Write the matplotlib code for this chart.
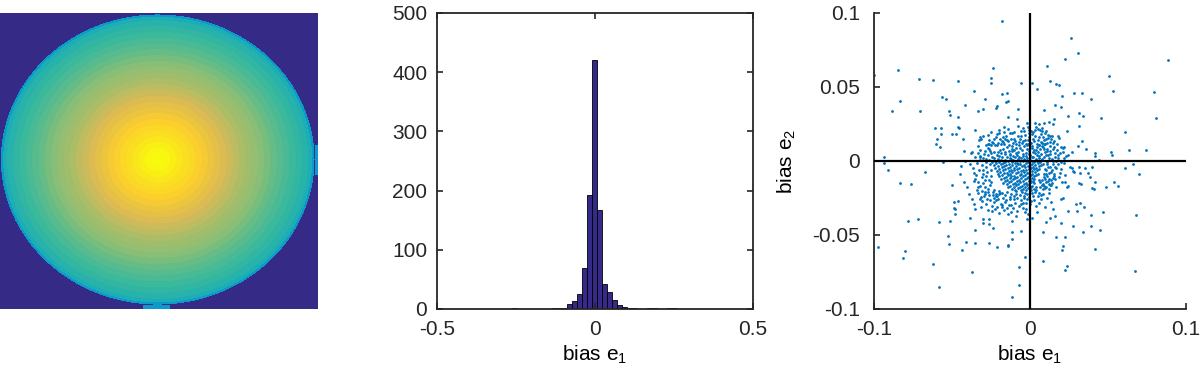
import numpy as np
import matplotlib
matplotlib.use('Agg')
import matplotlib.pyplot as plt
from matplotlib.colors import LinearSegmentedColormap

plt.rcParams['font.family'] = ['Liberation Sans', 'DejaVu Sans']
plt.rcParams['axes.unicode_minus'] = False
plt.rcParams['mathtext.default'] = 'regular'

# ---- data ----

# disk image: value of each concentric ring, centre outwards (0..1 on the colour scale)
ring_levels = [1.00, 0.985, 0.965, 0.945, 0.92, 0.90, 0.875, 0.85, 0.82, 0.79,
               0.76, 0.73, 0.70, 0.675, 0.65, 0.63, 0.61, 0.59, 0.565, 0.545,
               0.525, 0.505, 0.485, 0.46, 0.43]
rim_level = 0.33

# histogram of bias e1: bins start at -0.5, one count per bin
hist_start = -0.5
hist_bin = 0.0158
hist_counts = [1, 0, 0, 0, 0, 0, 0, 0, 0, 0,
               0, 0, 0, 0, 0, 1, 0, 0, 0, 0,
               0, 0, 0, 1, 2, 2, 8, 14, 26, 69,
               192, 420, 168, 43, 28, 16, 7, 3, 2, 1,
               0, 0, 1, 1, 0, 0, 1, 1, 0, 0]

# scatter of (bias e1, bias e2), in units of 1e-4
scatter_outer = [
    (-180, 944), (265, 833), (306, 728), (223, 690), (885, 685), (108, 640), (-234, 630),
    (-845, 613), (-998, 580), (505, 572), (-250, 560), (-248, 530), (-709, 556), (-620, 550),
    (-463, 538), (-59, 527), (127, 543), (164, 520), (187, 514), (13, 527), (47, 486),
    (204, 437), (282, 460), (333, 457), (535, 470), (798, 468), (390, 417), (-361, 470),
    (-289, 417), (-178, 455), (-149, 460), (-565, 430), (-537, 420), (-830, 407), (-705, 340),
    (-885, 340), (-520, 340), (-510, 310), (-418, 380), (-300, 350), (-219, 360), (-210, 370),
    (-75, 354), (-142, 295), (89, 342), (159, 378), (197, 365), (244, 302), (312, 322),
    (340, 304), (456, 290), (807, 288), (609, 198), (743, 74), (633, 77), (520, 63),
    (525, 43), (418, 54), (416, 32), (443, 5), (660, -20), (610, -50), (696, -88),
    (537, -144), (563, -167), (490, -178), (410, -190), (397, -184), (680, -365), (471, -342),
    (393, -365), (393, -439), (452, -466), (341, -482), (225, -514), (276, -437), (297, -292),
    (414, -595), (212, -577), (206, -600), (235, -712), (225, -739), (675, -743), (85, -676),
    (-32, -650), (-68, -718), (-68, -838), (-117, -921), (-372, -752), (-584, -851), (-620, -696),
    (-813, -657), (-800, -610), (-976, -580), (-785, -408), (-715, -392), (-586, -414), (-527, -505),
    (-520, -560), (-435, -600), (-410, -545), (-350, -464), (-350, -554), (-386, -387), (-484, -315),
    (-261, -556), (-212, -583), (-140, -574), (-113, -482), (-117, -403), (-57, -475), (-113, -527),
    (-138, -568), (-834, -151), (-760, -155), (-673, -72), (-913, -59), (-934, 30), (-938, -14),
    (-556, -9), (-446, -88), (-441, -32), (-414, 2), (-475, 180), (-456, 225), (-430, 146),
    (-610, 220), (-570, 223), (-571, 182), (-595, 149), (-605, 115), (-578, 97), (-497, 182),
    (-463, 228), (-460, 300), (-335, 336), (-155, 400), (-138, 407), (-164, 228), (-376, 54),
    (-425, 70), (-499, -160), (-510, -403), (-478, -324), (-478, -358), (-489, -275), (-463, -268),
    (-301, -419), (-265, -426), (-238, -455), (318, -284), (344, -313), (244, -336), (304, -336),
    (149, -324), (159, -370), (127, -383), (106, -410), (202, -419), (85, -478), (164, -516),
]

scatter_mid = [
    (-350, 210), (-320, 165), (-312, 150), (-300, 172), (-325, 140), (-330, 100), (-322, 36),
    (-270, 115), (-262, 140), (-250, 108), (-190, 150), (-180, 138), (-170, 128), (-160, 152),
    (-150, 142), (-140, 133), (-165, 118), (-102, 194), (-75, 239), (-85, 284), (-21, 259),
    (-10, 230), (5, 200), (15, 180), (-5, 160), (-30, 142), (8, 122), (-15, 112),
    (153, 284), (30, 255), (60, 252), (90, 258), (120, 262), (146, 250), (312, 234),
    (180, 170), (240, 205), (335, 137), (308, 104), (200, 93), (210, 85), (220, 97),
    (244, 43), (272, 63), (357, 80), (127, 170), (118, 158), (136, 150), (127, 130),
    (145, 124), (64, 210), (80, 200), (95, 190), (70, 180), (40, 230), (50, 215),
    (85, 165), (100, 150), (110, 120), (255, -40), (280, -74), (270, -45), (278, -65),
    (314, -43), (318, -81), (350, -47), (372, -81), (397, -43), (382, -110), (420, -140),
    (330, -155), (315, -150), (223, -144), (244, -167), (202, -257), (212, -248), (70, -230),
    (85, -190), (60, -215), (65, -175), (40, -195), (35, -210), (25, -190), (40, -176),
    (75, -165), (85, -158), (100, -140), (115, -135), (125, -125), (135, -130), (148, -115),
    (155, -100), (105, -175), (120, -158), (135, -160), (95, -185), (65, -140), (55, -130),
    (-32, -214), (-17, -259), (0, -293), (-25, -327), (-11, -360), (11, -383), (-21, -394),
    (21, -236), (-42, -282), (-420, -144), (-403, -178), (-393, -223), (-372, -257), (-361, -290),
    (-350, -324), (-361, -81), (-350, -122), (-335, -144), (-323, -167), (-340, -194), (-308, -200),
    (-287, -178), (-297, -234), (-276, -257), (-318, -257), (-260, -390), (-230, -250), (-220, -220),
    (-210, -235), (-200, -205), (-195, -218), (-215, -262), (-230, -195), (-240, -230), (-300, -392),
    (-180, -300), (-160, -280), (-150, -320), (-120, -300), (-100, -260), (-80, -340), (-60, -290),
    (-130, -240), (-90, -220), (-40, -250), (-336, 54), (-320, 30), (-290, 70), (-300, 20),
    (-280, -10), (-270, 40), (-260, 80), (-280, -40), (-300, -60), (-280, -100), (-260, -130),
    (-250, -60), (-310, -110), (-265, 10), (-240, 120), (-230, 60), (-220, 160), (-210, 110),
    (-200, 190), (-130, 190), (-100, 150), (-60, 170), (-40, 200), (-70, 130), (-110, 120),
    (-50, 120), (20, 150), (50, 140), (60, 110), (80, 120), (90, 80), (110, 70),
    (100, 40), (120, 20), (130, 50), (150, 80), (160, 30), (180, 40), (170, 0),
    (150, -20), (130, -40), (110, -20), (100, -60), (120, -80), (140, -60), (170, -50),
    (190, -80), (200, -10), (220, 20), (160, -120), (130, -160), (90, -110), (100, -90),
    (80, -130),
]

scatter_inner = [
    (-285, 105), (-262, 118), (-241, 131), (-226, 109), (-205, 124), (-188, 112), (-176, 161),
    (-151, 171), (-133, 111), (-121, 147), (-96, 133), (-88, 112), (-79, 168), (-64, 152),
    (-47, 138), (-35, 176), (-26, 118), (-12, 141), (-3, 186), (11, 104), (24, 133),
    (31, 168), (43, 112), (57, 159), (69, 131), (74, 104), (88, 141), (97, 118),
    (113, 176), (129, 101), (142, 167), (157, 132), (171, 112), (186, 154), (-271, 173),
    (-252, 196), (-214, 183), (-196, 209), (-168, 194), (-142, 214), (-116, 186), (-57, 204),
    (-45, 221), (-8, 212), (17, 196), (34, 211), (78, 224), (104, 203), (-232, 147),
    (-112, 103), (-68, 108), (-19, 106), (-2, 124), (55, 108),
    (-372, 64), (-354, 28), (-341, -13), (-365, -47), (-347, -92), (-329, -63), (-318, 71),
    (-309, -28), (-296, 47), (-291, -131), (-283, 12), (-274, -71), (-268, 88), (-259, -19),
    (-255, -164), (-247, 53), (-251, -98), (-268, -189), (-332, -175), (-356, -138), (-384, -22),
    (-301, -151), (-287, -207), (-262, -231), (-248, -142), (-246, 24), (-258, 66), (-300, -88),
    (-321, 4),
    (-331, -214), (-317, -243), (-306, -272), (-289, -226), (-281, -291), (-267, -208), (-258, -264),
    (-243, -301), (-236, -212), (-228, -279), (-219, -238), (-211, -312), (-204, -255), (-196, -226),
    (-188, -288), (-181, -214), (-174, -247), (-166, -331), (-158, -232), (-152, -266), (-144, -209),
    (-137, -294), (-128, -257), (-119, -221), (-111, -318), (-104, -238), (-97, -283), (-88, -206),
    (-81, -251), (-72, -302), (-66, -229), (-58, -262), (-49, -211), (-43, -318), (-37, -236),
    (-28, -281), (-19, -224), (-8, -246), (4, -271), (13, -219), (27, -263), (38, -301),
    (49, -238), (58, -284), (71, -257), (83, -226), (96, -311), (109, -249), (122, -213),
    (138, -279), (-246, -336), (-197, -354), (-142, -361), (-89, -372), (-35, -345), (46, -342),
    (-314, -311), (-272, -330), (-226, -323), (-178, -311), (-124, -346),
    (84, 92), (97, 61), (91, 24), (86, -17), (94, -51), (88, -88), (97, -121),
    (91, -167), (108, 84), (116, 43), (112, -7), (118, -39), (109, -104), (121, -189),
    (131, 67), (139, 11), (134, -71), (143, -147), (152, 96), (158, 52), (149, -2),
    (162, -43), (156, -89), (168, -176), (174, 73), (181, 18), (177, -23), (186, -108),
    (193, 51), (201, -54), (207, -141), (212, 62), (218, -12), (226, -93), (231, 31),
    (238, -178), (89, 112),
]

scatter_core = [
    (-148, 97), (-92, 91), (-37, 99), (12, 88), (47, 94),
    (-171, 83), (-118, 79), (-66, 87), (-18, 81), (27, 76), (63, 84),
    (-193, 72), (-137, 69), (-103, 77), (-52, 71), (-4, 66), (38, 73),
    (-207, 61), (-158, 58), (-112, 67), (-77, 62), (-28, 57), (18, 64), (52, 60),
    (-183, 52), (-131, 48), (-88, 55), (-47, 50), (-8, 46), (33, 53), (72, 49),
    (-212, 41), (-163, 44), (-127, 38), (-82, 42), (-43, 36), (-2, 43), (42, 39),
    (-197, 33), (-148, 29), (-108, 35), (-68, 28), (-23, 32), (14, 27), (57, 34),
    (-232, 22), (-177, 24), (-128, 19), (-97, 26), (-58, 21), (-17, 17), (22, 25), (61, 19),
    (-203, 13), (-158, 9), (-121, 16), (-78, 11), (-41, 14), (3, 8), (36, 12), (77, 15),
    (-227, 3), (-186, 6), (-143, 1), (-107, 4), (-63, -2), (-31, 5), (11, 2), (47, -3),
    (-242, -7), (-198, -4), (-162, -9), (-118, -6), (-84, -11), (-46, -3), (-12, -8), (26, -5),
    (62, -10), (-217, -16), (-173, -13), (-137, -19), (-98, -14), (-61, -18), (-24, -12), (16, -17),
    (51, -14), (-231, -27), (-188, -23), (-152, -29), (-113, -25), (-76, -22), (-38, -28), (2, -24),
    (34, -30), (71, -26), (-206, -36), (-166, -33), (-128, -38), (-91, -34), (-53, -37), (-14, -32),
    (21, -39), (56, -35), (-224, -47), (-181, -43), (-141, -48), (-104, -44), (-69, -49), (-29, -42),
    (6, -46), (41, -48), (-199, -56), (-158, -53), (-122, -58), (-83, -54), (-44, -59), (-9, -52),
    (24, -57), (58, -55), (-214, -66), (-176, -63), (-133, -68), (-101, -64), (-59, -67), (-26, -62),
    (11, -68), (44, -64), (-191, -74), (-149, -78), (-116, -73), (-74, -77), (-41, -72), (-4, -78),
    (31, -75), (-204, -86), (-164, -83), (-126, -88), (-89, -84), (-56, -87), (-19, -82), (14, -88),
    (49, -85), (-179, -96), (-141, -93), (-103, -98), (-66, -94), (-31, -97), (6, -92), (36, -96),
    (-196, -104), (-154, -107), (-119, -103), (-81, -108), (-44, -104), (-11, -106), (26, -103),
    (-168, -116), (-131, -113), (-94, -118), (-56, -114), (-21, -117), (16, -113),
    (-186, -124), (-146, -127), (-109, -123), (-71, -126), (-34, -122), (1, -127), (29, -124),
    (-161, -136), (-121, -133), (-84, -137), (-46, -134), (-9, -138), (19, -133),
    (-174, -146), (-136, -143), (-98, -147), (-61, -144), (-26, -148), (9, -142),
    (-149, -156), (-111, -153), (-76, -157), (-39, -154), (-6, -158), (24, -152),
    (-126, -166), (-89, -163), (-54, -167), (-19, -164), (14, -168),
    (-139, -176), (-101, -173), (-64, -177), (-31, -174), (4, -178),
    (-114, -186), (-79, -183), (-44, -187), (-11, -184),
    (-94, -196), (-59, -193), (-24, -197), (9, -194),
]

# ---- styles ----
parula = LinearSegmentedColormap.from_list('parula', [
    (0.208, 0.166, 0.529), (0.012, 0.388, 0.882), (0.079, 0.520, 0.831),
    (0.023, 0.653, 0.777), (0.218, 0.725, 0.619), (0.571, 0.749, 0.449),
    (0.851, 0.730, 0.336), (0.988, 0.807, 0.179), (0.976, 0.983, 0.054)])
axis_col = '#262626'
fs = 15

fig = plt.figure(figsize=(12, 3.79), dpi=100)

# ---- left: disk image ----
ax_img = fig.add_axes([0.0, 0.1847, 0.265, 0.781])
n_rows, n_cols = 296, 318
vv, uu = np.mgrid[0:n_rows, 0:n_cols]
uu = (uu + 0.5) / n_cols
vv = (vv + 0.5) / n_rows
dd = np.hypot((uu - 0.496) / 0.493, (vv - 0.495) / 0.490)
ring_idx = np.minimum((dd * len(ring_levels)).astype(int), len(ring_levels) - 1)
img = np.array(ring_levels)[ring_idx]
img[dd > 0.985] = rim_level
# little flat stubs where the disk meets the right and bottom image edges
stub = ((uu > 0.990) & (np.abs(vv - 0.496) < 0.05)) | ((vv > 0.988) & (np.abs(uu - 0.492) < 0.043))
img[(dd > 1.0) & ~stub] = 0.0
ax_img.imshow(img, cmap=parula, vmin=0, vmax=1, aspect='auto', interpolation='nearest')
ax_img.axis('off')

# ---- middle: histogram ----
ax_h = fig.add_axes([0.3642, 0.1847, 0.2633, 0.781])
centers = hist_start + hist_bin * (np.arange(len(hist_counts)) + 0.5)
ax_h.bar(centers, hist_counts, width=hist_bin, color=parula(0.0),
         edgecolor='black', linewidth=0.6)
ax_h.set_xlim(-0.5, 0.5)
ax_h.set_ylim(0, 500)
ax_h.set_xticks([-0.5, 0, 0.5])
ax_h.set_xticklabels(['-0.5', '0', '0.5'])
ax_h.set_yticks([0, 100, 200, 300, 400, 500])
ax_h.tick_params(direction='in', length=4, width=1.2, colors=axis_col, labelsize=fs,
                 top=True, right=True)
ax_h.tick_params(axis='x', pad=8)
ax_h.tick_params(axis='y', pad=7)
for sp in ax_h.spines.values():
    sp.set_color(axis_col)
    sp.set_linewidth(1.3)
ax_h.set_xlabel('bias e$_1$', fontsize=fs, labelpad=3)

# ---- right: scatter ----
ax_s = fig.add_axes([0.7283, 0.1847, 0.26, 0.781])
pts = np.array(scatter_outer + scatter_mid + scatter_inner + scatter_core) * 1e-4
ax_s.scatter(pts[:, 0], pts[:, 1], s=4, color='#0072BD', linewidths=0, zorder=2)
ax_s.axhline(0, color='black', lw=1.6, zorder=3)
ax_s.axvline(0, color='black', lw=1.6, zorder=3)
ax_s.set_xlim(-0.1, 0.1)
ax_s.set_ylim(-0.1, 0.1)
ax_s.set_xticks([-0.1, 0, 0.1])
ax_s.set_xticklabels(['-0.1', '0', '0.1'])
ax_s.set_yticks([-0.1, -0.05, 0, 0.05, 0.1])
ax_s.set_yticklabels(['-0.1', '-0.05', '0', '0.05', '0.1'])
ax_s.spines['top'].set_visible(False)
ax_s.spines['right'].set_visible(False)
for sp in ('left', 'bottom'):
    ax_s.spines[sp].set_color(axis_col)
    ax_s.spines[sp].set_linewidth(1.3)
ax_s.tick_params(direction='in', length=4, width=1.2, colors=axis_col, labelsize=fs)
ax_s.tick_params(axis='x', pad=8)
ax_s.tick_params(axis='y', pad=10)
ax_s.set_xlabel('bias e$_1$', fontsize=fs, labelpad=3)
ax_s.set_ylabel('bias e$_2$', fontsize=fs, labelpad=10)

fig.savefig('out.png', dpi=100)
